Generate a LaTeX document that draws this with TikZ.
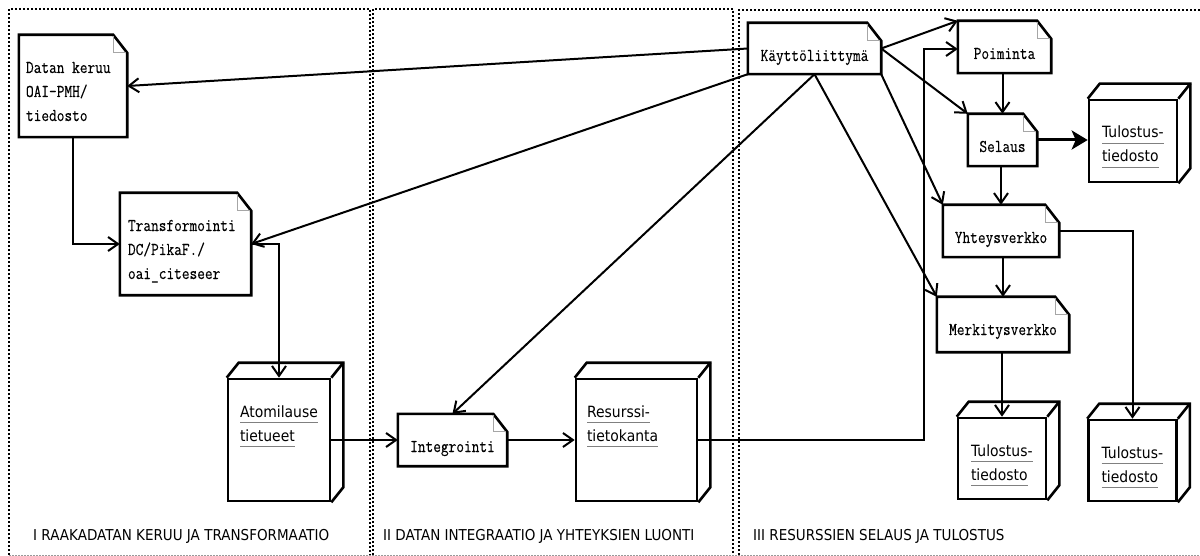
\documentclass[tikz,border=0pt]{standalone}
\usepackage{fontspec}
\usetikzlibrary{arrows.meta}
\newfontfamily\notefont[FakeStretch=0.83,FakeBold=0.2]{Latin Modern Mono}
\newfontfamily\labelfont[FakeStretch=0.9]{DejaVu Sans}
\definecolor{ulgray}{gray}{0.5}
\definecolor{foldgray}{gray}{0.65}
\definecolor{edgegray}{gray}{0.6}

% word with a grey bar under it
\newcommand\uword[1]{\setbox0\hbox{#1}\rlap{\textcolor{ulgray}{\vrule width\wd0 height -4.6pt depth 6.4pt}}\box0}
% text block of a node: width, height, left inset, lines (first baseline 38pt below the top)
\newcommand\facetext[4]{\makebox[#1][l]{\rule[\dimexpr -#2/2\relax]{0pt}{#2}\hspace*{#3}\raisebox{\dimexpr #2/2-38pt\relax}[0pt][0pt]{\begin{tabular}[t]{@{}l@{}}#4\end{tabular}}}}
% one centred line: width, height, text
\newcommand\midtext[3]{\makebox[#1][c]{\rule[\dimexpr -#2/2\relax]{0pt}{#2}\raisebox{\dimexpr #2/2-38pt\relax}[0pt][0pt]{#3}}}

\tikzset{
  note/.style={inner sep=0pt, font=\notefont\fontsize{18pt}{24pt}\selectfont},
  face/.style={draw, line width=2.6pt, inner sep=0pt, font=\labelfont\fontsize{15.5pt}{24pt}\selectfont},
  boxline/.style={line width=2.6pt, line join=miter},
  noteline/.style={line width=2.6pt, line join=miter},
  fold/.style={foldgray, line width=1pt},
  edge/.style={line width=2pt},
  arr/.style={edge, -{Straight Barb[length=10pt,width=14pt]}},
  bigarr/.style={line width=3pt, -{Stealth[length=16pt,width=19pt,inset=4pt]}},
  frame/.style={line width=1.8pt, dash pattern=on 1.8pt off 2.2pt},
  framebase/.style={edgegray, line width=0.8pt, dash pattern=on 1.5pt off 1.5pt},
  phase/.style={font=\labelfont\fontsize{15pt}{18pt}\selectfont, anchor=base west, inner sep=0pt}
}

\begin{document}
\begin{tikzpicture}[x=1pt,y=-1pt]
\useasboundingbox (0,0) rectangle (1200,556);

% phase frames
\draw[frame] (9,555) -- (9,9) -- (370,9) -- (370,555);
\draw[frame] (373,555) -- (373,9) -- (733,9) -- (733,555);
\draw[frame] (739,555) -- (739,10) -- (1204,10);
\draw[framebase] (9,555) -- (1200,555);

\node[phase] (p1) at (33,540) {I RAAKADATAN KERUU JA TRANSFORMAATIO};
\node[phase] (p2) at (383,540) {II DATAN INTEGRAATIO JA YHTEYKSIEN LUONTI};
\node[phase] (p3) at (753,540) {III RESURSSIEN SELAUS JA TULOSTUS};

% process notes
\node[note] (datan) at (73,86) {\facetext{108pt}{102pt}{7pt}{Datan keruu\\OAI-PMH/\\tiedosto}};
\node[note] (trans) at (185.5,244) {\facetext{131pt}{102pt}{8pt}{Transformointi\\DC/PikaF./\\oai\_citeseer}};
\node[note] (kaytto) at (814.5,48.5) {\midtext{133pt}{51pt}{Käyttöliittymä}};
\node[note] (poim) at (1004.5,47) {\midtext{93pt}{52pt}{Poiminta}};
\node[note] (selaus) at (1002.5,140) {\midtext{69pt}{52pt}{Selaus}};
\node[note] (yht) at (1001,231) {\midtext{116pt}{52pt}{Yhteysverkko}};
\node[note] (merk) at (1003,324.5) {\midtext{132pt}{55pt}{Merkitysverkko}};
\node[note] (integ) at (452.5,440) {\midtext{109pt}{52pt}{Integrointi}};

\foreach \n in {datan,trans,kaytto,poim,selaus,yht,merk,integ}{
  \draw[noteline] (\n.north west) -- ([xshift=-14pt]\n.north east) -- ([yshift=-18pt]\n.north east)
    -- (\n.south east) -- (\n.south west) -- cycle;
  \draw[fold] ([xshift=-14pt,yshift=-1.5pt]\n.north east) |- ([xshift=-1.5pt,yshift=-18pt]\n.north east);
}

% data stores
\node[face] (atom) at (279,440) {\facetext{102pt}{122pt}{12pt}{\uword{Atomilause}\\\uword{tietueet}}};
\node[face] (res) at (636.5,440) {\facetext{121pt}{122pt}{11pt}{\uword{Resurssi-}\\\uword{tietokanta}}};
\node[face] (tul1) at (1133,141) {\facetext{88pt}{82pt}{13pt}{\uword{Tulostus-}\\\uword{tiedosto}}};
\node[face] (tul2) at (1002,458.5) {\facetext{88pt}{81pt}{13pt}{\uword{Tulostus-}\\\uword{tiedosto}}};
\node[face] (tul3) at (1132.5,460.5) {\facetext{88pt}{81pt}{13pt}{\uword{Tulostus-}\\\uword{tiedosto}}};

\foreach \n in {atom,res,tul1,tul2,tul3}{
  \draw[boxline] (\n.north west) -- ([shift={(12pt,15pt)}]\n.north west) -- ([shift={(12pt,15pt)}]\n.north east)
    -- ([shift={(12pt,15pt)}]\n.south east) -- (\n.south east);
  \draw[boxline] (\n.north east) -- ([shift={(12pt,15pt)}]\n.north east);
}

% flows
\coordinate (jog) at (924,49);
\draw[arr] (kaytto.west) -- (datan.east);
\draw[arr] (kaytto.south west) -- (trans.east);
\draw[arr] (kaytto.south) -- (integ.north);
\draw[arr] (kaytto.south) -- (merk.north west);
\draw[arr] (kaytto.east) -- (poim.north west);
\draw[arr] (kaytto.east) -- (selaus.north west);
\draw[arr] (kaytto.south east) -- (yht.north west);
\draw[arr] (res.east) -| (jog) -- (jog -| poim.west);
\draw[arr] (poim.south -| selaus.north) -- (selaus.north);
\draw[bigarr] (selaus.east) -- (selaus.east -| tul1.west);
\draw[arr] (selaus.south -| yht.north) -- (yht.north);
\draw[arr] (yht.south -| merk.north) -- (merk.north);
\draw[arr] (yht.east) -| (tul3.north);
\draw[arr] (merk.south -| tul2.north) -- (tul2.north);
\draw[arr] (datan.south) |- (trans.west);
\draw[arr] (trans.east) -| (atom.north);
\draw[arr] (atom.east) -- (integ.west);
\draw[arr] (integ.east) -- (res.west);
\end{tikzpicture}
\end{document}
